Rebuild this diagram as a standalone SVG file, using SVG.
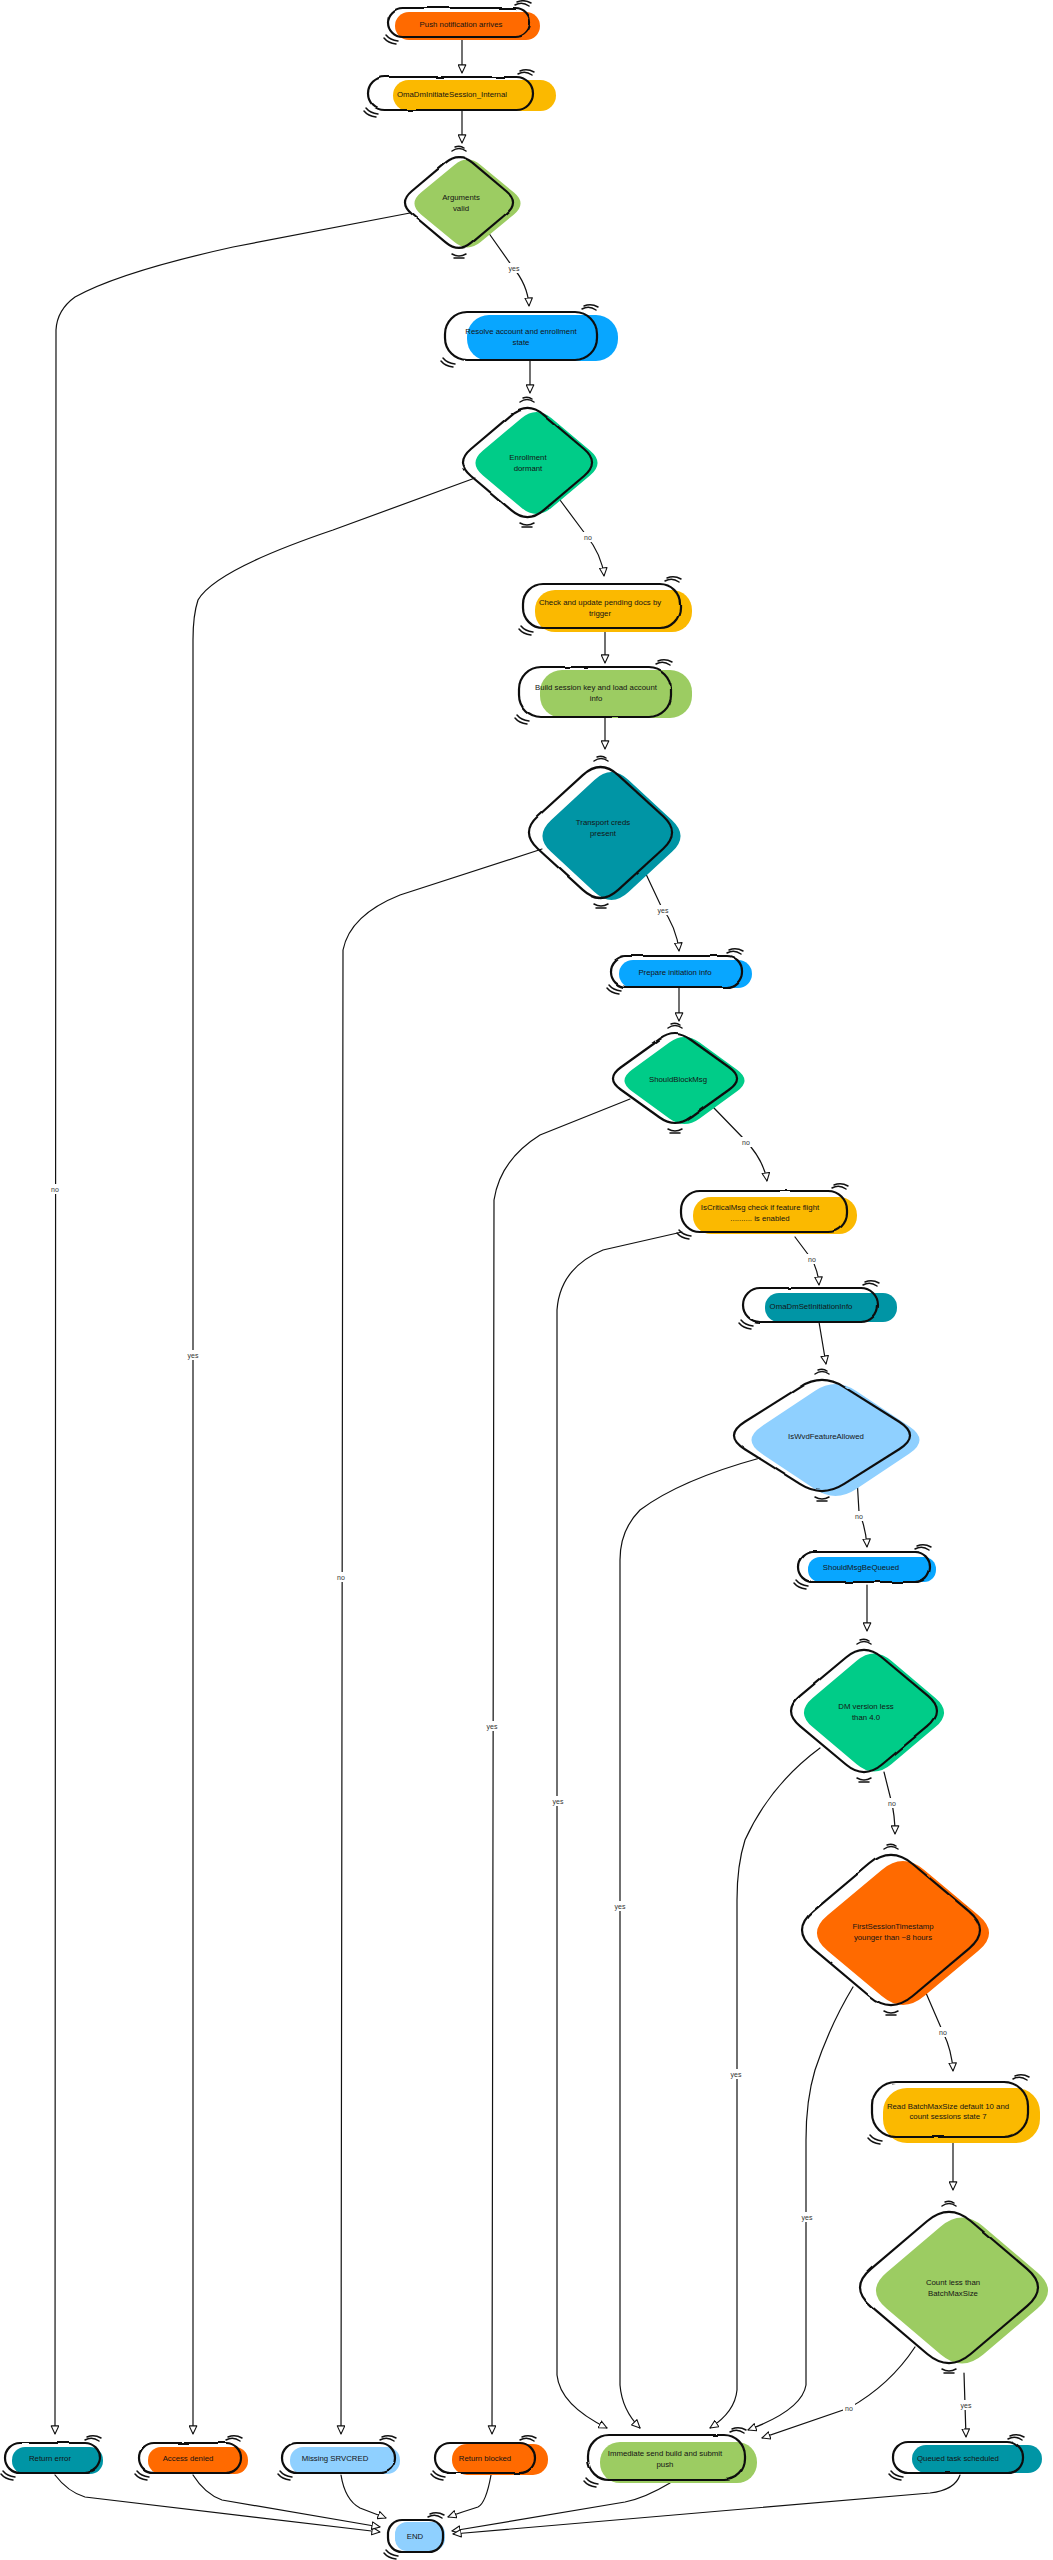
<svg xmlns="http://www.w3.org/2000/svg" xmlns:xlink="http://www.w3.org/1999/xlink" width="1053" height="2560" viewBox="0 0 1053 2560">
<style>
.o{fill:none;stroke:#111;stroke-width:2.2;stroke-linecap:round;stroke-linejoin:round}
.r{filter:url(#rough)}
.tk{fill:none;stroke:#111;stroke-width:1.5;stroke-linecap:round}
.t{font-family:"Liberation Sans",Arial,sans-serif;font-size:7.8px;fill:#141414;text-anchor:middle;dominant-baseline:central}
.e{fill:none;stroke:#111;stroke-width:1.2;stroke-linecap:round;marker-end:url(#ah)}
.el{font-family:"Liberation Sans",Arial,sans-serif;font-size:7px;fill:#333;text-anchor:middle;dominant-baseline:central}
.lb{fill:#fff}
.orange{fill:#ff6a00}.amber{fill:#fbb900}.green{fill:#9ccc62}.blue{fill:#08a6ff}.emerald{fill:#00cc88}.teal{fill:#0095a5}.light{fill:#8fd0ff}
</style>
<defs>
<filter id="rough" x="-10%" y="-10%" width="120%" height="120%"><feTurbulence type="fractalNoise" baseFrequency="0.035" numOctaves="2" seed="4"/><feDisplacementMap in="SourceGraphic" scale="2.2" xChannelSelector="R" yChannelSelector="G"/></filter>
<marker id="ah" viewBox="0 0 10 10" refX="9.5" refY="5" markerUnits="userSpaceOnUse" markerWidth="9" markerHeight="9" orient="auto"><path d="M0.5 0.8 L9.5 5 L0.5 9.2 Z" fill="#fff" stroke="#111" stroke-width="1.2" stroke-linejoin="round"/></marker>
<path id="dia" vector-effect="non-scaling-stroke" d="M0.22 -0.78 L0.78 -0.22 Q1 0 0.78 0.22 L0.22 0.78 Q0 1 -0.22 0.78 L-0.78 0.22 Q-1 0 -0.78 -0.22 L-0.22 -0.78 Q0 -1 0.22 -0.78 Z"/>
<path id="tkTR" d="M-9 0 Q-2 -4 5 1 M-7 -3 Q0 -6 7 -2"/>
<path id="tkBL" d="M-5 -3 Q-1 2 7 3 M-7 0 Q-3 5 5 6"/>
<path id="tkT" d="M-7 0 Q0 -5 7 0 M-4 -4 Q1 -6 5 -3"/>
<path id="tkB" d="M-7 0 Q0 4 7 0 M-5 4 L5 4"/>
</defs>
<rect width="1053" height="2560" fill="#fff"/>

<g id="connectors">
<path class="e" d="M462 37 L462 73"/>
<path class="e" d="M462 110 L462 143"/>
<path class="e" d="M488 232 L512 266 Q528 285 529 306"/>
<path class="e" d="M410 213 L233 247 Q120 272 75 297 Q57 310 56 330 L55 2434"/>
<path class="e" d="M530 360 L530 393"/>
<path class="e" d="M475 478 L333 530 Q215 570 198 600 Q193 615 193 640 L193 2434"/>
<path class="e" d="M560 500 L586 535 Q602 555 604 576"/>
<path class="e" d="M605 630 L605 663"/>
<path class="e" d="M605 718 L605 749"/>
<path class="e" d="M645 872 L661 906 Q677 928 679 951"/>
<path class="e" d="M542 849 L400 895 Q350 915 343 950 L341 2434"/>
<path class="e" d="M679 988 L679 1021"/>
<path class="e" d="M630 1099 L540 1135 Q500 1160 494 1200 L492 2434"/>
<path class="e" d="M713 1107 L744 1139 Q764 1160 767 1181"/>
<path class="e" d="M682 1232 L603 1250 Q560 1268 557 1310 L557 2375 Q560 2405 607 2428"/>
<path class="e" d="M795 1237 L810 1257 Q818 1268 819 1285"/>
<path class="e" d="M819 1322 L826 1364"/>
<path class="e" d="M760 1458 Q680 1480 640 1510 Q620 1530 620 1560 L620 2385 Q622 2410 640 2428"/>
<path class="e" d="M857 1478 L859 1512 Q866 1528 867 1547"/>
<path class="e" d="M867 1585 L867 1631"/>
<path class="e" d="M820 1748 Q770 1785 745 1840 Q737 1865 737 1900 L737 2390 Q735 2412 710 2428"/>
<path class="e" d="M884 1772 L891 1800 Q895 1815 895 1834"/>
<path class="e" d="M853 1987 Q830 2025 815 2070 Q806 2100 806 2140 L806 2385 Q802 2410 748 2430"/>
<path class="e" d="M926 1993 L942 2030 Q952 2050 953 2071"/>
<path class="e" d="M953 2140 L953 2190"/>
<path class="e" d="M964 2373 L966 2437"/>
<path class="e" d="M915 2347 Q890 2385 849 2408 Q800 2425 762 2438"/>
<path class="e" d="M55 2475 Q68 2492 85 2497 L380 2532"/>
<path class="e" d="M193 2475 Q205 2494 222 2500 L380 2527"/>
<path class="e" d="M341 2475 Q345 2500 360 2508 L386 2518"/>
<path class="e" d="M491 2475 Q486 2503 478 2507 Q462 2512 448 2517"/>
<path class="e" d="M670 2483 Q645 2498 625 2502 L452 2531"/>
<path class="e" d="M960 2475 Q955 2490 930 2493 L453 2534"/>
<g id="edge-labels">
<rect class="lb" x="507" y="263" width="14" height="10"/><text class="el" x="514" y="268">yes</text>
<rect class="lb" x="49" y="1184" width="12" height="10"/><text class="el" x="55" y="1189">no</text>
<rect class="lb" x="186" y="1350" width="14" height="10"/><text class="el" x="193" y="1355">yes</text>
<rect class="lb" x="582" y="532" width="12" height="10"/><text class="el" x="588" y="537">no</text>
<rect class="lb" x="656" y="905" width="14" height="10"/><text class="el" x="663" y="910">yes</text>
<rect class="lb" x="335" y="1572" width="12" height="10"/><text class="el" x="341" y="1577">no</text>
<rect class="lb" x="485" y="1721" width="14" height="10"/><text class="el" x="492" y="1726">yes</text>
<rect class="lb" x="740" y="1137" width="12" height="10"/><text class="el" x="746" y="1142">no</text>
<rect class="lb" x="551" y="1796" width="14" height="10"/><text class="el" x="558" y="1801">yes</text>
<rect class="lb" x="806" y="1254" width="12" height="10"/><text class="el" x="812" y="1259">no</text>
<rect class="lb" x="613" y="1901" width="14" height="10"/><text class="el" x="620" y="1906">yes</text>
<rect class="lb" x="853" y="1511" width="12" height="10"/><text class="el" x="859" y="1516">no</text>
<rect class="lb" x="729" y="2069" width="14" height="10"/><text class="el" x="736" y="2074">yes</text>
<rect class="lb" x="886" y="1798" width="12" height="10"/><text class="el" x="892" y="1803">no</text>
<rect class="lb" x="800" y="2212" width="14" height="10"/><text class="el" x="807" y="2217">yes</text>
<rect class="lb" x="937" y="2027" width="12" height="10"/><text class="el" x="943" y="2032">no</text>
<rect class="lb" x="959" y="2400" width="14" height="10"/><text class="el" x="966" y="2405">yes</text>
<rect class="lb" x="843" y="2403" width="12" height="10"/><text class="el" x="849" y="2408">no</text>
</g>
</g>

<g id="push">
<rect class="orange" x="395" y="12" width="145" height="28" rx="14"/>
<rect class="o r" x="388" y="8" width="142" height="29" rx="14.5"/>
<use href="#tkTR" class="tk" x="524" y="5"/><use href="#tkBL" class="tk" x="391" y="38"/>
<text class="t" x="461" y="24">Push notification arrives</text>
</g>
<g id="omaInit">
<rect class="amber" x="393" y="80" width="163" height="31" rx="15.5"/>
<rect class="o r" x="368" y="77" width="165" height="33" rx="16.5"/>
<use href="#tkTR" class="tk" x="527" y="74"/><use href="#tkBL" class="tk" x="371" y="111"/>
<text class="t" x="452" y="94">OmaDmInitiateSession_Internal</text>
</g>
<g id="args">
<use href="#dia" class="green" transform="translate(467.5 203.5) scale(59.6 49.5)"/>
<g class="r"><use href="#dia" class="o" transform="translate(459 202.5) scale(60.7 51.1)"/></g>
<use href="#tkT" class="tk" x="459" y="151"/><use href="#tkB" class="tk" x="459" y="254"/>
<text class="t"><tspan x="461" y="197">Arguments</tspan><tspan x="461" y="207.5">valid</tspan></text>
</g>
<g id="resolve">
<rect class="blue" x="467" y="315" width="151" height="46" rx="22"/>
<rect class="o r" x="445" y="312" width="152" height="48" rx="22"/>
<use href="#tkTR" class="tk" x="591" y="309"/><use href="#tkBL" class="tk" x="448" y="361"/>
<text class="t"><tspan x="521" y="331">Resolve account and enrollment</tspan><tspan x="521" y="341.5">state</tspan></text>
</g>
<g id="enroll">
<use href="#dia" class="emerald" transform="translate(536.5 463) scale(68.6 57.3)"/>
<g class="r"><use href="#dia" class="o" transform="translate(527.5 462.5) scale(72.5 61.3)"/></g>
<use href="#tkT" class="tk" x="527" y="402"/><use href="#tkB" class="tk" x="527" y="523"/>
<text class="t"><tspan x="528" y="457">Enrollment</tspan><tspan x="528" y="467.5">dormant</tspan></text>
</g>
<g id="check">
<rect class="amber" x="535" y="590" width="157" height="42" rx="20"/>
<rect class="o r" x="523" y="584" width="157" height="44" rx="20"/>
<use href="#tkTR" class="tk" x="674" y="581"/><use href="#tkBL" class="tk" x="526" y="629"/>
<text class="t"><tspan x="600" y="602">Check and update pending docs by</tspan><tspan x="600" y="612.5">trigger</tspan></text>
</g>
<g id="build">
<rect class="green" x="540" y="670" width="152" height="48" rx="22"/>
<rect class="o r" x="519" y="667" width="152" height="50" rx="22"/>
<use href="#tkTR" class="tk" x="665" y="664"/><use href="#tkBL" class="tk" x="522" y="718"/>
<text class="t"><tspan x="596" y="687">Build session key and load account</tspan><tspan x="596" y="697.5">info</tspan></text>
</g>
<g id="transport">
<use href="#dia" class="teal" transform="translate(611.5 836) scale(77.6 71.9)"/>
<g class="r"><use href="#dia" class="o" transform="translate(600.5 832.5) scale(80.4 73.6)"/></g>
<use href="#tkT" class="tk" x="601" y="761"/><use href="#tkB" class="tk" x="601" y="904"/>
<text class="t"><tspan x="603" y="822">Transport creds</tspan><tspan x="603" y="832.5">present</tspan></text>
</g>
<g id="prepare">
<rect class="blue" x="619" y="960" width="133" height="28" rx="14"/>
<rect class="o r" x="611" y="956" width="131" height="31" rx="15"/>
<use href="#tkTR" class="tk" x="736" y="953"/><use href="#tkBL" class="tk" x="614" y="988"/>
<text class="t" x="675" y="972">Prepare initiation info</text>
</g>
<g id="shouldBlock">
<use href="#dia" class="emerald" transform="translate(684.5 1080.5) scale(67.4 48.9)"/>
<g class="r"><use href="#dia" class="o" transform="translate(675 1078.5) scale(69.7 50)"/></g>
<use href="#tkT" class="tk" x="675" y="1028"/><use href="#tkB" class="tk" x="675" y="1129"/>
<text class="t" x="678" y="1079">ShouldBlockMsg</text>
</g>
<g id="isCritical">
<rect class="amber" x="693" y="1197" width="164" height="37" rx="18"/>
<rect class="o r" x="681" y="1191" width="166" height="41" rx="19"/>
<use href="#tkTR" class="tk" x="841" y="1188"/><use href="#tkBL" class="tk" x="684" y="1233"/>
<text class="t"><tspan x="760" y="1207">IsCriticalMsg check if feature flight</tspan><tspan x="760" y="1217.5">.......... is enabled</tspan></text>
</g>
<g id="setInit">
<rect class="teal" x="765" y="1293" width="132" height="29" rx="14"/>
<rect class="o r" x="743" y="1288" width="135" height="34" rx="17"/>
<use href="#tkTR" class="tk" x="872" y="1285"/><use href="#tkBL" class="tk" x="746" y="1323"/>
<text class="t" x="811" y="1306">OmaDmSetInitiationInfo</text>
</g>
<g id="isWvd">
<use href="#dia" class="light" transform="translate(835.5 1440) scale(94.4 62.9)"/>
<g class="r"><use href="#dia" class="o" transform="translate(822 1435.5) scale(98.9 62.4)"/></g>
<use href="#tkT" class="tk" x="822" y="1374"/><use href="#tkB" class="tk" x="822" y="1497"/>
<text class="t" x="826" y="1436">IsWvdFeatureAllowed</text>
</g>
<g id="shouldQueue">
<rect class="blue" x="808" y="1557" width="128" height="25" rx="12"/>
<rect class="o r" x="798" y="1552" width="132" height="30" rx="15"/>
<use href="#tkTR" class="tk" x="924" y="1549"/><use href="#tkBL" class="tk" x="801" y="1583"/>
<text class="t" x="861" y="1567">ShouldMsgBeQueued</text>
</g>
<g id="dmVer">
<use href="#dia" class="emerald" transform="translate(874 1712.5) scale(78.7 66.3)"/>
<g class="r"><use href="#dia" class="o" transform="translate(864 1711) scale(82 68.6)"/></g>
<use href="#tkT" class="tk" x="864" y="1644"/><use href="#tkB" class="tk" x="864" y="1778"/>
<text class="t"><tspan x="866" y="1706">DM version less</tspan><tspan x="866" y="1716.5">than 4.0</tspan></text>
</g>
<g id="firstSess">
<use href="#dia" class="orange" transform="translate(903 1933) scale(96.7 80.9)"/>
<g class="r"><use href="#dia" class="o" transform="translate(891 1930) scale(100 84.3)"/></g>
<use href="#tkT" class="tk" x="891" y="1849"/><use href="#tkB" class="tk" x="891" y="2011"/>
<text class="t"><tspan x="893" y="1926">FirstSessionTimestamp</tspan><tspan x="893" y="1937">younger than ~8 hours</tspan></text>
</g>
<g id="readBatch">
<rect class="amber" x="883" y="2088" width="157" height="55" rx="24"/>
<rect class="o r" x="872" y="2082" width="156" height="55" rx="24"/>
<use href="#tkTR" class="tk" x="1022" y="2079"/><use href="#tkBL" class="tk" x="875" y="2138"/>
<text class="t"><tspan x="948" y="2106">Read BatchMaxSize default 10 and</tspan><tspan x="948" y="2116">count sessions state 7</tspan></text>
</g>
<g id="count">
<use href="#dia" class="green" transform="translate(962 2290.5) scale(96.7 82)"/>
<g class="r"><use href="#dia" class="o" transform="translate(949 2287.5) scale(100 84.9)"/></g>
<use href="#tkT" class="tk" x="949" y="2206"/><use href="#tkB" class="tk" x="949" y="2369"/>
<text class="t"><tspan x="953" y="2282">Count less than</tspan><tspan x="953" y="2292.5">BatchMaxSize</tspan></text>
</g>
<g id="returnError">
<rect class="teal" x="12" y="2447" width="91" height="27" rx="13"/>
<rect class="o r" x="5" y="2443" width="95" height="30" rx="15"/>
<use href="#tkTR" class="tk" x="94" y="2440"/><use href="#tkBL" class="tk" x="8" y="2474"/>
<text class="t" x="50" y="2458">Return error</text>
</g>
<g id="accessDenied">
<rect class="orange" x="148" y="2447" width="100" height="27" rx="13"/>
<rect class="o r" x="139" y="2443" width="102" height="30" rx="15"/>
<use href="#tkTR" class="tk" x="235" y="2440"/><use href="#tkBL" class="tk" x="142" y="2474"/>
<text class="t" x="188" y="2458">Access denied</text>
</g>
<g id="missing">
<rect class="light" x="290" y="2447" width="110" height="27" rx="13"/>
<rect class="o r" x="282" y="2443" width="113" height="30" rx="15"/>
<use href="#tkTR" class="tk" x="389" y="2440"/><use href="#tkBL" class="tk" x="285" y="2474"/>
<text class="t" x="335" y="2458">Missing SRVCRED</text>
</g>
<g id="returnBlocked">
<rect class="orange" x="452" y="2444" width="96" height="31" rx="15"/>
<rect class="o r" x="435" y="2443" width="100" height="30" rx="15"/>
<use href="#tkTR" class="tk" x="529" y="2440"/><use href="#tkBL" class="tk" x="438" y="2474"/>
<text class="t" x="485" y="2458">Return blocked</text>
</g>
<g id="immediate">
<rect class="green" x="600" y="2442" width="157" height="41" rx="20"/>
<rect class="o r" x="588" y="2435" width="157" height="45" rx="21"/>
<use href="#tkTR" class="tk" x="739" y="2432"/><use href="#tkBL" class="tk" x="591" y="2481"/>
<text class="t"><tspan x="665" y="2453">Immediate send build and submit</tspan><tspan x="665" y="2463.5">push</tspan></text>
</g>
<g id="queuedTask">
<rect class="teal" x="912" y="2445" width="130" height="28" rx="14"/>
<rect class="o r" x="893" y="2442" width="130" height="31" rx="15"/>
<use href="#tkTR" class="tk" x="1017" y="2439"/><use href="#tkBL" class="tk" x="896" y="2474"/>
<text class="t" x="958" y="2458">Queued task scheduled</text>
</g>
<g id="end">
<rect class="light" x="395" y="2522" width="50" height="29" rx="12"/>
<rect class="o r" x="388" y="2520" width="55" height="32" rx="14"/>
<use href="#tkTR" class="tk" x="437" y="2517"/><use href="#tkBL" class="tk" x="391" y="2553"/>
<text class="t" x="415" y="2536">END</text>
</g>
</svg>
